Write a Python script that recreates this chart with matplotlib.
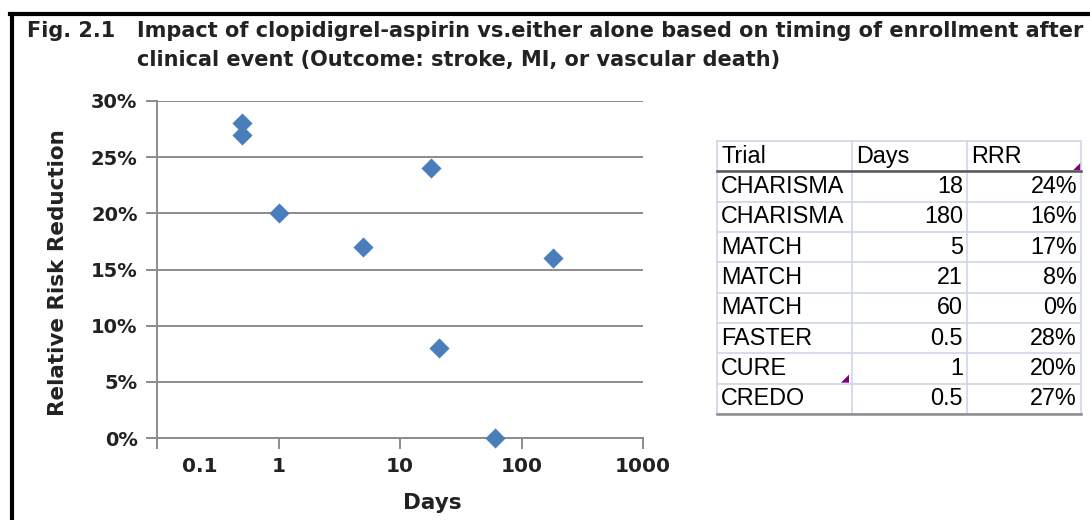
import numpy as np
import matplotlib
matplotlib.use("Agg")
import matplotlib.pyplot as plt
import matplotlib.transforms as mtrans
from matplotlib.lines import Line2D
from matplotlib.patches import Polygon

# 数据：试验、入组时间（天）、相对风险降低
trials = ["CHARISMA", "CHARISMA", "MATCH", "MATCH", "MATCH", "FASTER", "CURE", "CREDO"]
days = [18, 180, 5, 21, 60, 0.5, 1, 0.5]
rrr = [24, 16, 17, 8, 0, 28, 20, 27]
days_text = ["18", "180", "5", "21", "60", "0.5", "1", "0.5"]
headers = ["Trial", "Days", "RRR"]

x_ticks = [0.1, 1, 10, 100, 1000]
x_tick_labels = ["0.1", "1", "10", "100", "1000"]
y_ticks = [0, 5, 10, 15, 20, 25, 30]

W, H = 1090, 520
fig = plt.figure(figsize=(W / 100, H / 100), dpi=100)
fig.patch.set_facecolor("white")

bold = dict(family="DejaVu Sans", fontweight="bold", color="#222222")

# 外框（上、左）
fig.add_artist(Line2D([10 / W, 1], [1 - 14 / H, 1 - 14 / H], color="black", lw=3))
fig.add_artist(Line2D([11.5 / W, 11.5 / W], [0, 1 - 14 / H], color="black", lw=3))

# 标题
fig.text(27 / W, 1 - 31 / H, "Fig. 2.1", fontsize=15, va="center", **bold)
fig.text(137 / W, 1 - 31 / H,
         "Impact of clopidigrel-aspirin vs.either alone based on timing of enrollment after",
         fontsize=15, va="center", **bold)
fig.text(137 / W, 1 - 60 / H, "clinical event (Outcome: stroke, MI, or vascular death)",
         fontsize=15, va="center", **bold)

# 散点图
ax = fig.add_axes([157 / W, (H - 438) / H, 486 / W, 337 / H])
ax.scatter(days, rrr, marker="D", s=105, color="#4a7ebb", zorder=3, linewidths=0, clip_on=False)
ax.set_xscale("log")
ax.set_xlim(0.1, 1000)
ax.set_ylim(0, 30)
ax.set_yticks(y_ticks)
ax.set_yticklabels([f"{v}%" for v in y_ticks], **bold, fontsize=14)
ax.set_xticks(x_ticks)
ax.set_xticklabels(x_tick_labels, **bold, fontsize=14.5)
ax.xaxis.set_minor_locator(matplotlib.ticker.NullLocator())
ax.grid(axis="y", color="#8c8c8c", lw=1.4)
ax.set_axisbelow(True)
for s in ["top", "right"]:
    ax.spines[s].set_visible(False)
for s in ["left", "bottom"]:
    ax.spines[s].set_color("#8c8c8c")
    ax.spines[s].set_linewidth(1.4)
ax.tick_params(axis="y", direction="out", length=8, width=1.4, color="#8c8c8c", pad=6)
ax.tick_params(axis="x", direction="out", length=8, width=1.4, color="#8c8c8c", pad=6)

# "0.1" 标签右移，避开纵轴
lab0 = ax.get_xticklabels()[0]
lab0.set_transform(lab0.get_transform() + mtrans.ScaledTranslation(0.43, 0, fig.dpi_scale_trans))

ax.set_ylabel("Relative Risk Reduction", fontsize=15.5, **bold)
ax.set_xlabel("Days", fontsize=15.5, **bold)
ax.xaxis.set_label_coords((432 - 157) / 486, -(493 - 438) / 337)
ax.yaxis.set_label_coords(-(157 - 68) / 486, (438 - 273) / 337)

# 右侧表格
tx0, tx1 = 717, 1081
ty0, ty1 = 141, 414
col_edges = [717, 852, 967, 1081]
tax = fig.add_axes([tx0 / W, (H - ty1) / H, (tx1 - tx0) / W, (ty1 - ty0) / H])
tax.set_xlim(tx0, tx1)
tax.set_ylim(ty1, ty0)
tax.axis("off")

n_rows = len(trials) + 1
row_h = (ty1 - ty0) / n_rows
grid_c = "#d0d6e6"
for i in range(n_rows + 1):
    y = ty0 + i * row_h
    tax.plot([tx0, tx1], [y, y], color=grid_c, lw=1.2, clip_on=False)
for x in col_edges:
    tax.plot([x, x], [ty0, ty1], color=grid_c, lw=1.2, clip_on=False)
tax.plot([tx0, tx1], [ty0 + row_h, ty0 + row_h], color="#555555", lw=1.8, clip_on=False)
tax.plot([tx0, tx1], [ty1, ty1], color="#8c8c8c", lw=1.8, clip_on=False)

tfont = dict(family="Liberation Sans", fontsize=16.8, color="black", va="center")
for j, h in enumerate(headers):
    tax.text(col_edges[j] + 4, ty0 + row_h / 2, h, ha="left", **tfont)
for i in range(len(trials)):
    yc = ty0 + (i + 1.5) * row_h
    tax.text(col_edges[0] + 4, yc, trials[i], ha="left", **tfont)
    tax.text(col_edges[2] - 4, yc, days_text[i], ha="right", **tfont)
    tax.text(col_edges[3] - 4, yc, f"{rrr[i]}%", ha="right", **tfont)

# 批注小三角
def corner_tri(xr, yb):
    tax.add_patch(Polygon([[xr, yb], [xr - 8, yb], [xr, yb - 8]], closed=True,
                          color="#800080", clip_on=False, lw=0))

corner_tri(col_edges[3], ty0 + row_h - 1)
corner_tri(col_edges[1] - 3, ty0 + 8 * row_h - 1)

fig.savefig("out.png", dpi=100, facecolor="white")
